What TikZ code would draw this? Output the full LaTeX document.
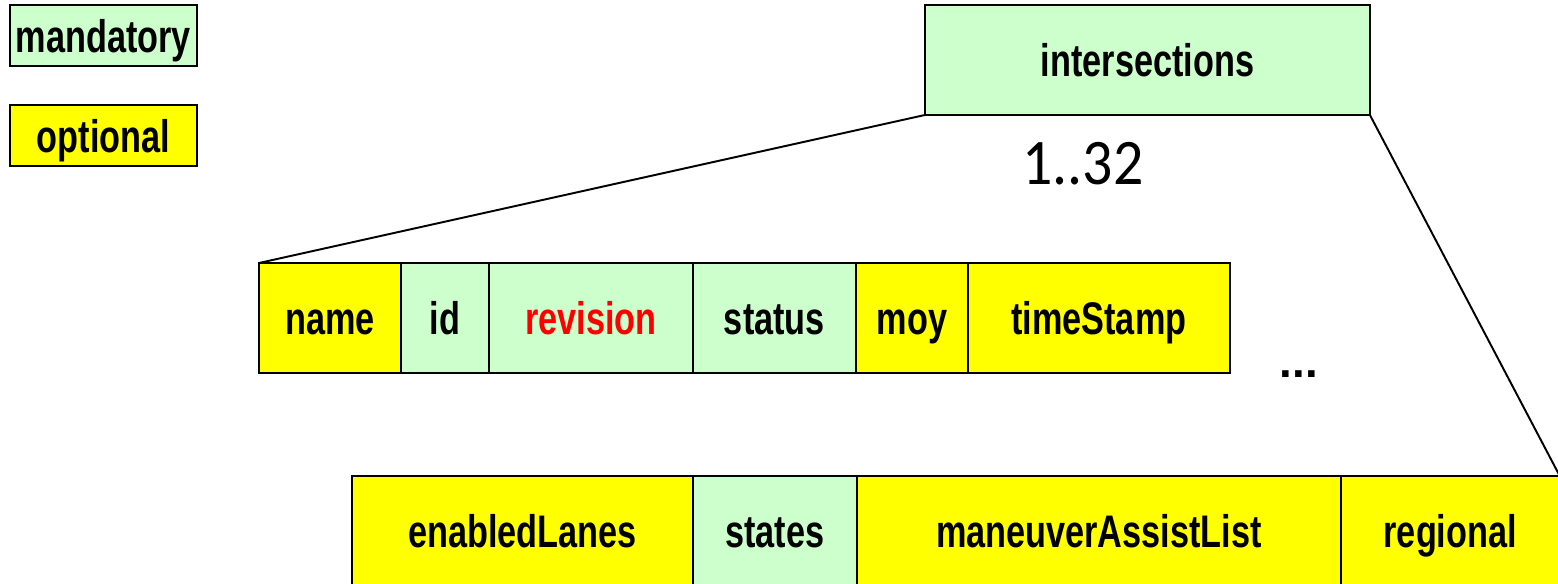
\documentclass[tikz,border=0pt]{standalone}
\usepackage{fontspec}
\setmainfont{Liberation Sans}
\newfontfamily\cellfont[FakeStretch=0.75]{Liberation Sans}
\newfontfamily\countfont[FakeStretch=0.92]{Carlito}
\usetikzlibrary{positioning}
\definecolor{mandgreen}{HTML}{CCFFCC}
\definecolor{optyellow}{HTML}{FFFF00}
\tikzset{
    field/.style={draw=black, line width=1.1pt, inner sep=0pt, outer sep=0pt,
        minimum height=2.2cm, text height=0.68cm, text depth=0pt,
        font=\cellfont\bfseries\fontsize{26}{30}\selectfont}, % one box of a record
    mand/.style={field, fill=mandgreen}, % mandatory element
    opt/.style={field, fill=optyellow},  % optional element
    link/.style={line width=1.1pt},      % line from parent to its fields
}

\begin{document}
\begin{tikzpicture}[x=0.02cm, y=-0.02cm]
    \useasboundingbox (0, 0) rectangle (1558, 584);
    \clip (0, 0) rectangle (1558, 584);
    \begin{scope}
        \node[mand, minimum width=3.74cm, minimum height=1.22cm, anchor=north west] (mandatory) at (10, 5) {mandatory};
        \node[opt, minimum width=3.74cm, minimum height=1.22cm, anchor=north west] (optional) at (10, 105) {optional};
    \end{scope}
    \begin{scope}
        \node[mand, minimum width=8.9cm, anchor=north west] (intersections) at (925, 5) {intersections};
        \node[font=\countfont\fontsize{37}{40}\selectfont, anchor=base] (count) at (1083, 185) {1..32};
    \end{scope}
    \begin{scope}
        \node[opt, minimum width=2.84cm, anchor=north west] (name) at (259, 263) {name};
        \node[mand, minimum width=1.76cm, right=0pt of name] (id) {id};
        \node[mand, minimum width=4.08cm, right=0pt of id, text=red] (revision) {revision};
        \node[mand, minimum width=3.26cm, right=0pt of revision] (status) {status};
        \node[opt, minimum width=2.24cm, right=0pt of status] (moy) {moy};
        \node[opt, minimum width=5.24cm, right=0pt of moy] (timeStamp) {timeStamp};
        \node[font=\bfseries\fontsize{26}{30}\selectfont, anchor=base] (more) at (1299, 377) {...};
    \end{scope}
    \begin{scope}
        \node[opt, minimum width=6.82cm, anchor=north west] (enabledLanes) at (352, 476) {enabledLanes};
        \node[mand, minimum width=3.28cm, right=0pt of enabledLanes] (states) {states};
        \node[opt, minimum width=9.68cm, right=0pt of states] (maneuverAssistList) {maneuverAssistList};
        \node[opt, minimum width=4.38cm, right=0pt of maneuverAssistList] (regional) {regional};
    \end{scope}
    \draw[link] (intersections.south west) -- (name.north west);
    \draw[link] (intersections.south east) -- (regional.north east);
\end{tikzpicture}
\end{document}
